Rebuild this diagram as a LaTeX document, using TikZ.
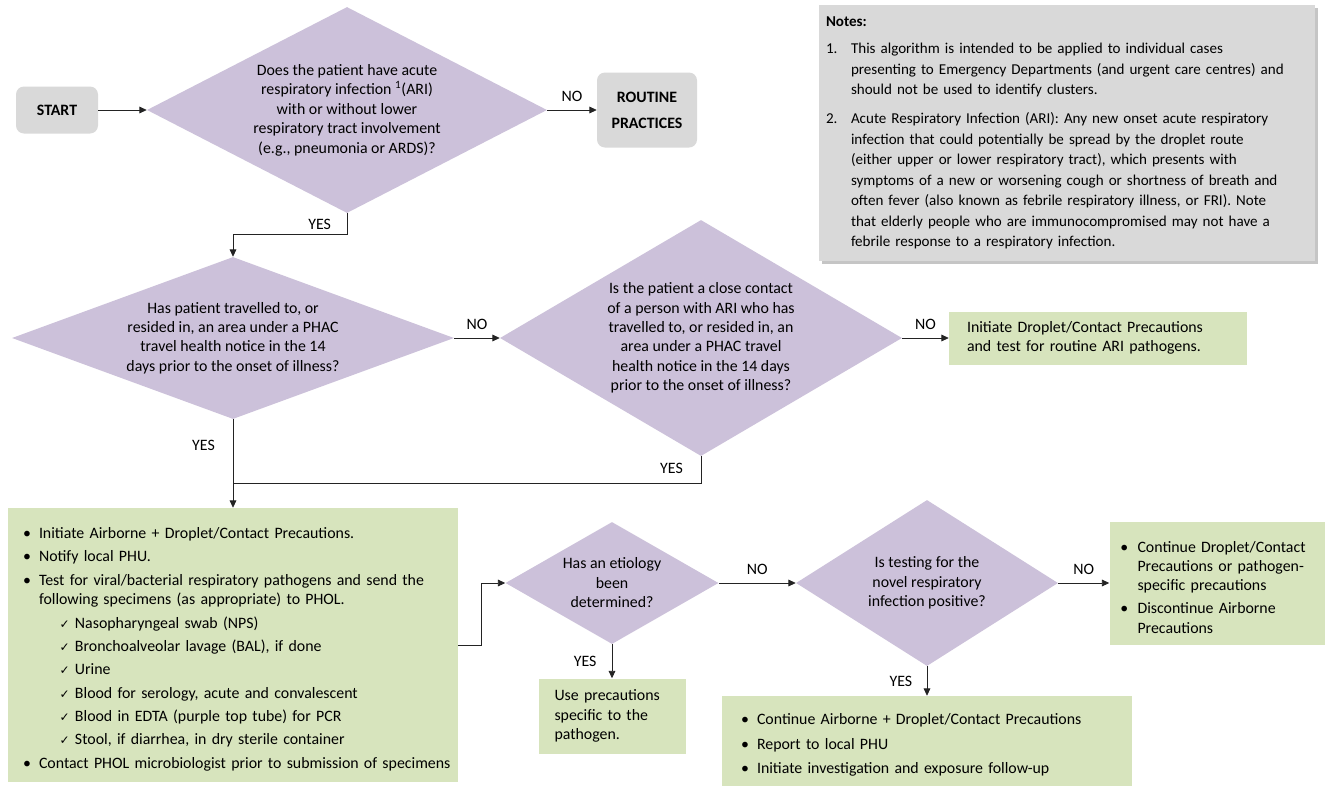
\documentclass[tikz,border=0pt]{standalone}
\usepackage{fontspec}
\setmainfont{Carlito}
\newfontfamily\dejavusans{DejaVu Sans}
\usepackage{enumitem}
\usepackage{tikz}
\usetikzlibrary{arrows.meta,shapes.geometric,shadows}

\definecolor{qpurple}{RGB}{204,193,218}
\definecolor{agreen}{RGB}{215,228,189}
\definecolor{sgray}{RGB}{217,217,217}
\definecolor{linegray}{RGB}{35,35,35}

\newcommand{\chkmark}{{\dejavusans\fontsize{9}{9}\selectfont ✓}}
\newlist{actlist}{itemize}{2}
\setlist[actlist,1]{label=\textbullet, leftmargin=18.75pt, labelsep=6pt, itemsep=2.9pt, topsep=0pt, partopsep=0pt, parsep=0pt}
\setlist[actlist,2]{label=\chkmark, leftmargin=27pt, labelsep=4pt, itemsep=2.9pt, topsep=2.9pt, partopsep=0pt, parsep=0pt}

\begin{document}
\begin{tikzpicture}[x=0.75pt, y=-0.75pt,
    font=\fontsize{11.9}{14.6}\selectfont,
    decision/.style={diamond, fill=qpurple, inner sep=0pt, align=center},
    greybox/.style={rectangle, rounded corners=6pt, fill=sgray, align=center, font=\fontsize{11.9}{14.6}\selectfont\bfseries},
    actionbox/.style={rectangle, fill=agreen, align=left},
    flow/.style={line width=0.6pt, draw=linegray},
    arr/.style={flow, -{Triangle[length=5.5pt, width=5pt]}}]
  \path[use as bounding box, fill=white] (0,0) rectangle (1329,786);

  \node[greybox, minimum width=61.5pt, minimum height=35.25pt] (start) at (57,110) {START};
  \node[decision, minimum width=300pt, minimum height=154.5pt, aspect=1.94] (d1) at (347,110)
    {Does the patient have acute\\ respiratory infection \textsuperscript{1}(ARI)\\ with or without lower\\ respiratory tract involvement\\ (e.g., pneumonia or ARDS)?};
  \node[greybox, minimum width=75pt, minimum height=56.25pt] (routine) at (647,110) {ROUTINE\\[5pt] PRACTICES};

  \node[rectangle, fill=sgray, drop shadow={shadow xshift=2pt, shadow yshift=-2pt, opacity=.45},
        text width=361.5pt, inner xsep=5.25pt, minimum height=192pt, align=left,
        font=\fontsize{11.3}{15.4}\selectfont] (notes) at (1067,133) {%
    \textbf{Notes:}\par\vspace{5pt}
    \begin{enumerate}[label=\arabic*., leftmargin=18.75pt, labelwidth=15pt, labelsep=3.75pt, align=left, itemsep=6pt, topsep=0pt, partopsep=0pt, parsep=0pt]
      \item This algorithm is intended to be applied to individual cases\newline
        presenting to Emergency Departments (and urgent care centres) and\newline
        should not be used to identify clusters.
      \item Acute Respiratory Infection (ARI): Any new onset acute respiratory\newline
        infection that could potentially be spread by the droplet route\newline
        (either upper or lower respiratory tract), which presents with\newline
        symptoms of a new or worsening cough or shortness of breath and\newline
        often fever (also known as febrile respiratory illness, or FRI). Note\newline
        that elderly people who are immunocompromised may not have a\newline
        febrile response to a respiratory infection.
    \end{enumerate}};

  \node[decision, minimum width=331.5pt, minimum height=121.5pt, aspect=2.73] (d2) at (233,338)
    {Has patient travelled to, or\\ resided in, an area under a PHAC\\ travel health notice in the 14\\ days prior to the onset of illness?};
  \node[decision, minimum width=301.5pt, minimum height=177pt, aspect=1.7] (d3) at (701,338)
    {Is the patient a close contact\\ of a person with ARI who has\\ travelled to, or resided in, an\\ area under a PHAC travel\\ health notice in the 14 days\\ prior to the onset of illness?};
  \node[actionbox, text width=196.5pt, inner xsep=13.5pt, minimum height=39.75pt] (drop) at (1098,338)
    {Initiate Droplet/Contact Precautions\\ and test for routine ARI pathogens.};

  \node[actionbox, text width=328.5pt, inner xsep=4.5pt, minimum height=205.5pt] (airborne) at (233,645) {%
    \begin{actlist}
      \item Initiate Airborne + Droplet/Contact Precautions.
      \item Notify local PHU.
      \item Test for viral/bacterial respiratory pathogens and send the\newline
        following specimens (as appropriate) to PHOL.
      \begin{actlist}
        \item Nasopharyngeal swab (NPS)
        \item Bronchoalveolar lavage (BAL), if done
        \item Urine
        \item Blood for serology, acute and convalescent
        \item Blood in EDTA (purple top tube) for PCR
        \item Stool, if diarrhea, in dry sterile container
      \end{actlist}
      \item Contact PHOL microbiologist prior to submission of specimens
    \end{actlist}};

  \node[decision, minimum width=159.75pt, minimum height=91.5pt, aspect=1.75] (d4) at (612,583)
    {Has an etiology\\ been\\ determined?};
  \node[decision, minimum width=196.5pt, minimum height=124.5pt, aspect=1.58] (d5) at (927,583)
    {Is testing for the\\ novel respiratory\\ infection positive?};
  \node[actionbox, text width=153.25pt, inner xsep=4pt, minimum height=92.25pt] (cont) at (1217,583) {%
    \begin{actlist}[leftmargin=17pt, labelsep=7pt, itemsep=2.6pt]
      \item Continue Droplet/Contact\newline Precautions or pathogen-\newline specific precautions
      \item Discontinue Airborne\newline Precautions
    \end{actlist}};
  \node[actionbox, text width=86.25pt, inner xsep=12pt, minimum height=56.25pt] (usepre) at (612,716)
    {Use precautions\\ specific to the\\ pathogen.};
  \node[actionbox, text width=277.5pt, inner xsep=15pt, minimum height=67.5pt] (report) at (927,741) {%
    \begin{actlist}[leftmargin=11.25pt, labelsep=6pt, itemsep=3.8pt]
      \item Continue Airborne + Droplet/Contact Precautions
      \item Report to local PHU
      \item Initiate investigation and exposure follow-up
    \end{actlist}};

  \coordinate (merge) at (233,483);

  \draw[arr] (start) -- (d1);
  \draw[arr] (d1) -- node[above=3pt]{NO} (routine);
  \draw[arr] (d1.south) -- ++(0,21) -| node[pos=.12, above]{YES} (d2.north);
  \draw[arr] (d2) -- node[above=3pt]{NO} (d3);
  \draw[arr] (d3) -- node[above=3pt]{NO} (drop);
  \draw[arr] (d2.south) -- node[pos=.3, left=10pt]{YES} (airborne.north);
  \draw[flow] (d3.south) |- node[pos=.23, left=10pt]{YES} (merge);
  \draw[arr] (airborne.east) -- ++(23,0) |- (d4.west);
  \draw[arr] (d4) -- node[above=3pt]{NO} (d5);
  \draw[arr] (d5) -- node[above=3pt]{NO} (cont);
  \draw[arr] (d4) -- node[left=8pt]{YES} (usepre);
  \draw[arr] (d5) -- node[left=7.5pt]{YES} (report);
\end{tikzpicture}
\end{document}
